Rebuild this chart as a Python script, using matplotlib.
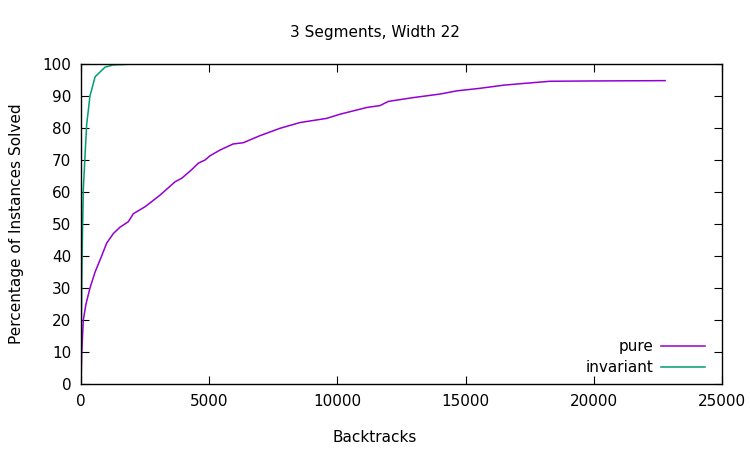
import matplotlib
matplotlib.use("Agg")
import matplotlib.pyplot as plt

title = "3 Segments, Width 22"
xlabel = "Backtracks"
ylabel = "Percentage of Instances Solved"

pure_x = [0, 30, 90, 195, 350, 550, 805, 1000, 1260, 1520, 1845, 2040, 2500, 3080,
          3670, 3930, 4320, 4575, 4840, 5030, 5420, 5930, 6330, 6980, 7760, 8540,
          9580, 10100, 11140, 11660, 11985, 12960, 14000, 14650, 15560, 16500,
          17380, 18290, 20000, 22780]
pure_y = [0, 10, 20, 25, 30, 35, 40, 44, 47, 49, 50.7, 53.2, 55.4, 59,
          63.2, 64.3, 67, 69, 70, 71.3, 73.1, 75, 75.4, 77.6, 79.9, 81.7,
          83, 84.3, 86.4, 87, 88.3, 89.5, 90.6, 91.6, 92.4, 93.4,
          94.0, 94.6, 94.7, 94.8]

inv_x = [0, 15, 40, 65, 90, 155, 220, 350, 550, 935, 1250, 2100]
inv_y = [0, 20, 38, 50, 60.6, 71, 81, 90, 96, 99, 99.7, 100]

plt.rcParams['font.family'] = ['DejaVu Sans']
fig = plt.figure(figsize=(7.5, 4.5), dpi=100)
ax = fig.add_axes([0.108, 0.1467, 0.8547, 0.7111])

ax.plot(pure_x, pure_y, color='#9400D3', lw=1.1, label='pure')
ax.plot(inv_x, inv_y, color='#009E73', lw=1.1, label='invariant')

ax.set_xlim(0, 25000)
ax.set_ylim(0, 100)
ax.set_xticks(range(0, 25001, 5000))
ax.set_yticks(range(0, 101, 10))
ax.tick_params(direction='in', length=6, top=True, right=True, labelsize=11, pad=7)
for s in ax.spines.values():
    s.set_linewidth(1.0)

fig.text(0.5, 1 - 33 / 450, title, ha='center', va='center', fontsize=11)
fig.text(0.5, 1 - 437 / 450, xlabel, ha='center', va='center', fontsize=11)
fig.text(17 / 750, 1 - 224 / 450, ylabel, ha='center', va='center', fontsize=11, rotation=90)

leg = ax.legend(loc='lower right', frameon=False, markerfirst=False, fontsize=11,
                handlelength=2.9, handletextpad=0.5, labelspacing=0.4,
                bbox_to_anchor=(0.995, -0.015))
for t in leg.get_texts():
    t.set_ha('right')

fig.savefig('out.png', dpi=100)
